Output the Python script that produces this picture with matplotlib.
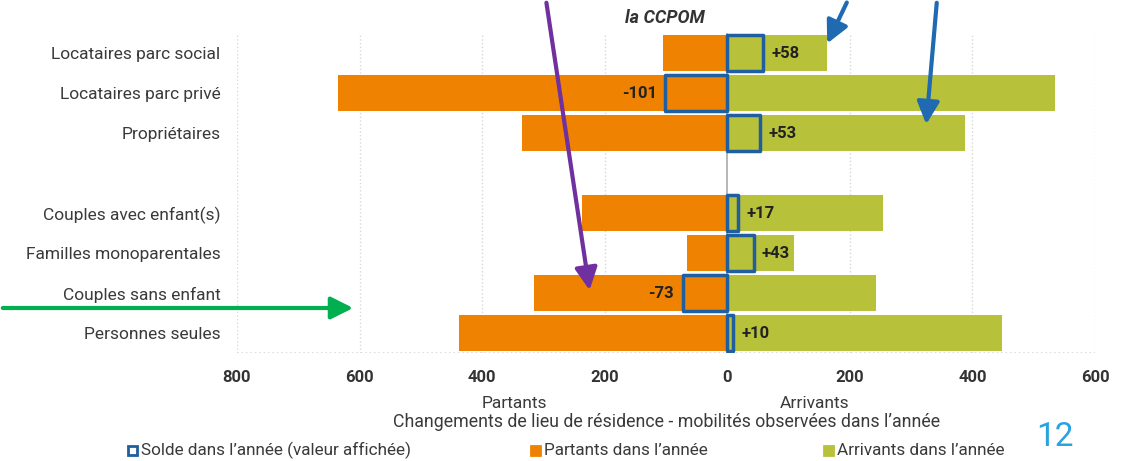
import numpy as np
import matplotlib.pyplot as plt
from matplotlib.patches import Rectangle, FancyArrowPatch

plt.rcParams['font.family'] = ['Roboto', 'DejaVu Sans']

# data, top to bottom ("" = empty row)
categories = ["Locataires parc social", "Locataires parc privé", "Propriétaires", "",
              "Couples avec enfant(s)", "Familles monoparentales",
              "Couples sans enfant", "Personnes seules"]
partants = [105, 635, 335, 0, 237, 66, 315, 438]
arrivants = [163, 534, 388, 0, 254, 109, 242, 448]
solde = [58, -101, 53, None, 17, 43, -73, 10]
xticks = [-800, -600, -400, -200, 0, 200, 400, 600]

orange = '#EF8200'
green = '#B8C13A'
blue = '#1F5F9F'
txt = '#3a3a3a'

fig = plt.figure(figsize=(11.24, 4.61), dpi=100)
ax = fig.add_axes([237 / 1124, 1 - 353 / 461, (1095 - 237) / 1124, (353 - 33) / 461])

y = np.arange(len(categories))
h = 0.92
ax.barh(y, [-p for p in partants], height=h, color=orange, zorder=2)
ax.barh(y, arrivants, height=h, color=green, zorder=2)

for yi, s in zip(y, solde):
    if s is None:
        continue
    ax.add_patch(Rectangle((0, yi - h / 2), s, h, fill=False, edgecolor=blue,
                           linewidth=2.5, zorder=4, joinstyle='round'))
    lab = '%+d' % s
    off = 6 if s > 0 else -6
    ax.annotate(lab, (s, yi), xytext=(off, 0), textcoords='offset points',
                ha='left' if s > 0 else 'right', va='center', fontsize=12,
                fontweight='bold', color='#222222', zorder=5)

ax.set_xlim(-800, 600)
ax.set_ylim(len(categories) - 0.5, -0.5)
ax.set_xticks(xticks)
ax.set_xticklabels([str(abs(t)) for t in xticks], fontweight='bold', fontsize=12, color='#333333')
ax.set_yticks(y)
ax.set_yticklabels(categories, fontsize=12.5, color=txt)
ax.tick_params(axis='both', length=0)
ax.tick_params(axis='y', pad=12)
ax.tick_params(axis='x', pad=12)

for s in ax.spines.values():
    s.set_visible(False)
for t in xticks:
    if t != 0:
        ax.axvline(t, color='#d8d8d8', linestyle=':', linewidth=1, zorder=0)
ax.axvline(0, color='#aaaaaa', linewidth=1.2, zorder=3)
ax.axhline(len(categories) - 0.5, color='#d8d8d8', linestyle=':', linewidth=1.2, zorder=0)

# titles / axis texts
fig.text(665 / 1124, 1 - 18 / 461, 'la CCPOM', ha='center', va='center',
         fontsize=13, fontweight='bold', style='italic', color='#333333')
fig.text(514 / 1124, 1 - 403 / 461, 'Partants', ha='center', va='center', fontsize=12.5, color=txt)
fig.text(815 / 1124, 1 - 403 / 461, 'Arrivants', ha='center', va='center', fontsize=12.5, color=txt)
fig.text(667 / 1124, 1 - 422 / 461,
         "Changements de lieu de résidence - mobilités observées dans l’année",
         ha='center', va='center', fontsize=12.8, color=txt)

# legend
leg_items = [(128, 'Solde dans l’année (valeur affichée)', 'white', blue),
             (531, 'Partants dans l’année', orange, orange),
             (824, 'Arrivants dans l’année', green, green)]
for xpx, label, fc, ec in leg_items:
    fig.patches.append(Rectangle((xpx / 1124, 1 - 455 / 461), 9 / 1124, 9 / 461,
                                 facecolor=fc, edgecolor=ec, linewidth=2,
                                 transform=fig.transFigure, figure=fig))
    fig.text((xpx + 13) / 1124, 1 - 450 / 461, label, ha='left', va='center',
             fontsize=12.3, color=txt)

fig.text(1055 / 1124, 1 - 437 / 461, '12', ha='center', va='center',
         fontsize=24, color='#29A3E0')

# overlay arrows
arrows = [((546, 0), (590, 293), '#7030A0'),
          ((848, 0), (826, 46), '#1F6AB0'),
          ((937, 0), (926, 127), '#1F6AB0'),
          ((0, 308), (356, 308), '#00B050')]
for (x0, y0), (x1, y1), c in arrows:
    fig.add_artist(FancyArrowPatch(
        (x0 / 1124, 1 - y0 / 461), (x1 / 1124, 1 - y1 / 461),
        transform=fig.transFigure, arrowstyle='-|>,head_length=9,head_width=4.5',
        color=c, linewidth=3, mutation_scale=1.5, zorder=10))

fig.savefig('out.png', dpi=100)
